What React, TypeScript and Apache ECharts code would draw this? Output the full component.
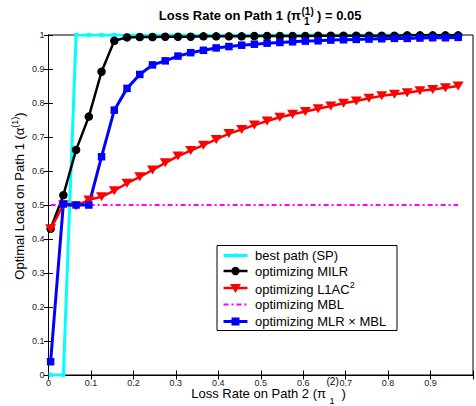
import React, { useEffect, useRef } from 'react';
import * as echarts from 'echarts';

// ---- data ----
const xValues = [
  0.005, 0.035, 0.065, 0.095, 0.125, 0.155, 0.185, 0.215, 0.245, 0.275, 0.305,
  0.335, 0.365, 0.395, 0.425, 0.455, 0.485, 0.515, 0.545, 0.575, 0.605, 0.635,
  0.665, 0.695, 0.725, 0.755, 0.785, 0.815, 0.845, 0.875, 0.905, 0.935, 0.965,
];
const spValues = [
  0, 0, 1, 1, 1, 1, 1, 1, 1, 1, 1, 1, 1, 1, 1, 1, 1, 1, 1, 1, 1, 1, 1, 1, 1, 1,
  1, 1, 1, 1, 1, 1, 1,
];
const milrValues = [
  0.43, 0.529, 0.662, 0.76, 0.892, 0.983, 0.993, 0.994, 0.994, 0.995, 0.995,
  0.995, 0.996, 0.996, 0.996, 0.996, 0.997, 0.997, 0.997, 0.997, 0.997, 0.998,
  0.998, 0.998, 0.998, 0.998, 0.998, 0.998, 0.999, 0.999, 0.999, 0.999, 0.999,
];
const l1acValues = [
  0.43, 0.5, 0.497, 0.515, 0.524, 0.542, 0.564, 0.583, 0.603, 0.624, 0.644,
  0.66, 0.676, 0.693, 0.71, 0.722, 0.735, 0.747, 0.758, 0.767, 0.775, 0.783,
  0.791, 0.799, 0.806, 0.814, 0.821, 0.826, 0.83, 0.836, 0.84, 0.845, 0.85,
];
const mblValues = [
  0.5, 0.5, 0.5, 0.5, 0.5, 0.5, 0.5, 0.5, 0.5, 0.5, 0.5, 0.5, 0.5, 0.5, 0.5,
  0.5, 0.5, 0.5, 0.5, 0.5, 0.5, 0.5, 0.5, 0.5, 0.5, 0.5, 0.5, 0.5, 0.5, 0.5,
  0.5, 0.5, 0.5,
];
const mlrMblValues = [
  0.039, 0.503, 0.5, 0.5, 0.642, 0.779, 0.843, 0.884, 0.912, 0.924, 0.938,
  0.948, 0.955, 0.962, 0.966, 0.97, 0.973, 0.976, 0.978, 0.98, 0.982, 0.983,
  0.985, 0.986, 0.987, 0.988, 0.989, 0.99, 0.99, 0.991, 0.992, 0.992, 0.993,
];
const seriesNames = [
  'best path (SP)',
  'optimizing MILR',
  'optimizing L1AC2',
  'optimizing MBL',
  'optimizing MLR × MBL',
];
const seriesColors = ['#00FFFF', '#000000', '#FF0000', '#FF00FF', '#0000FF'];

const FONT = '"Liberation Sans", Arial, Helvetica, sans-serif';

export default function App() {
  const ref = useRef<HTMLDivElement>(null);

  useEffect(() => {
    const chart = echarts.init(ref.current!, null, { renderer: 'svg' });
    const pairs = (ys: number[]) => xValues.map((x, i) => [x, ys[i]]);

    const gridLeft = 48.5;
    const gridTop = 35;

    // legend drawn as graphic
    const lgX = 217;
    const lgY = 245.5;
    const rowY = [255.5, 271, 288, 304.5, 321.5];
    const iconX1 = 223.5;
    const iconX2 = 247.5;
    const iconC = 235.5;
    const textX = 255;
    const legendEls: any[] = [
      {
        type: 'rect',
        shape: { x: lgX, y: lgY, width: 180, height: 85 },
        style: { fill: '#fff', stroke: '#000', lineWidth: 1 },
        z: 100,
      },
    ];
    const lineWidths = [3, 2.5, 2.5, 2, 3];
    seriesNames.forEach((name, i) => {
      const y = rowY[i];
      const c = seriesColors[i];
      legendEls.push({
        type: 'line',
        shape: { x1: iconX1, y1: y, x2: iconX2, y2: y },
        style: {
          stroke: c,
          lineWidth: lineWidths[i],
          lineDash: i === 3 ? [5, 3, 2, 3] : null,
        },
        z: 101,
      });
      if (i === 0) {
        legendEls.push({
          type: 'rect',
          shape: { x: iconC - 2, y: y - 2, width: 4, height: 4 },
          style: { fill: c },
          z: 102,
        });
      } else if (i === 1) {
        legendEls.push({
          type: 'circle',
          shape: { cx: iconC, cy: y, r: 4.2 },
          style: { fill: c },
          z: 102,
        });
      } else if (i === 2) {
        legendEls.push({
          type: 'polygon',
          shape: {
            points: [
              [iconC - 5.5, y - 4],
              [iconC + 5.5, y - 4],
              [iconC, y + 5],
            ],
          },
          style: { fill: c },
          z: 102,
        });
      } else if (i === 4) {
        legendEls.push({
          type: 'rect',
          shape: { x: iconC - 4, y: y - 4, width: 8, height: 8 },
          style: { fill: c },
          z: 102,
        });
      }
      legendEls.push({
        type: 'text',
        x: textX,
        y: i === 2 ? y + 1 : y,
        style: {
          text: i === 2 ? 'optimizing L1AC{s|2}' : name,
          fontSize: 13,
          fontFamily: FONT,
          fill: '#000',
          align: 'left',
          verticalAlign: 'middle',
          lineHeight: i === 2 ? 18 : 14,
          rich: {
            s: { fontSize: 9, fontFamily: FONT, lineHeight: 9, verticalAlign: 'top', fill: '#000' },
          },
        },
        z: 102,
      });
    });

    const titleEls: any[] = [
      {
        type: 'text', x: 301, y: 15.5,
        style: { text: 'Loss Rate on Path 1 (π', fontSize: 13, fontWeight: 'bold', fontFamily: FONT, fill: '#000', align: 'right', verticalAlign: 'middle' },
      },
      {
        type: 'text', x: 301.5, y: 11.5,
        style: { text: '(1)', fontSize: 10, fontWeight: 'bold', fontFamily: FONT, fill: '#000', align: 'left', verticalAlign: 'middle' },
      },
      {
        type: 'text', x: 304, y: 21,
        style: { text: '1', fontSize: 10, fontWeight: 'bold', fontFamily: FONT, fill: '#000', align: 'left', verticalAlign: 'middle' },
      },
      {
        type: 'text', x: 317, y: 15.5,
        style: { text: ') = 0.05', fontSize: 13, fontWeight: 'bold', fontFamily: FONT, fill: '#000', align: 'left', verticalAlign: 'middle' },
      },
      // x axis label
      {
        type: 'text', x: 326, y: 393.5,
        style: { text: 'Loss Rate on Path 2 (π', fontSize: 13, fontFamily: FONT, fill: '#000', align: 'right', verticalAlign: 'middle' },
      },
      {
        type: 'text', x: 326.5, y: 381,
        style: { text: '(2)', fontSize: 10, fontFamily: FONT, fill: '#000', align: 'left', verticalAlign: 'middle' },
      },
      {
        type: 'text', x: 329.5, y: 400.5,
        style: { text: '1', fontSize: 9, fontFamily: FONT, fill: '#000', align: 'left', verticalAlign: 'middle' },
      },
      {
        type: 'text', x: 341.5, y: 393.5,
        style: { text: ')', fontSize: 13, fontFamily: FONT, fill: '#000', align: 'left', verticalAlign: 'middle' },
      },
      // y axis label
      {
        type: 'text', x: 19, y: 196, rotation: Math.PI / 2,
        style: {
          text: 'Optimal Load on Path 1 (α{s|(1)})',
          fontSize: 13, fontFamily: FONT, fill: '#000', align: 'center', verticalAlign: 'middle', lineHeight: 18,
          rich: { s: { fontSize: 9, fontFamily: FONT, lineHeight: 9, verticalAlign: 'top', fill: '#000' } },
        },
      },
    ];

    const tickLabel = { fontSize: 9, fontFamily: FONT, color: '#222' };

    chart.setOption({
      animation: false,
      backgroundColor: '#fff',
      grid: {
        left: gridLeft,
        right: -2.5,
        top: gridTop,
        bottom: 31,
        show: true,
        borderColor: '#000',
        borderWidth: 1,
        containLabel: false,
      },
      xAxis: [
        {
          type: 'value', min: 0, max: 1, interval: 0.1, position: 'bottom',
          axisLine: { show: true, lineStyle: { color: '#000', width: 1 } },
          axisTick: { show: true, inside: true, length: 4.5, lineStyle: { color: '#000' } },
          axisLabel: {
            ...tickLabel, margin: 3,
            formatter: (v: number) => (v > 0.95 ? '' : String(Math.round(v * 10) / 10)),
          },
          splitLine: { show: false },
        },
        {
          type: 'value', min: 0, max: 1, interval: 0.1, position: 'top',
          axisLine: { show: true, lineStyle: { color: '#000', width: 1 } },
          axisTick: { show: true, inside: true, length: 4.5, lineStyle: { color: '#000' } },
          axisLabel: { show: false },
          splitLine: { show: false },
        },
      ],
      yAxis: [
        {
          type: 'value', min: 0, max: 1, interval: 0.1, position: 'left',
          axisLine: { show: true, lineStyle: { color: '#000', width: 1 } },
          axisTick: { show: true, inside: true, length: 4.5, lineStyle: { color: '#000' } },
          axisLabel: {
            ...tickLabel, margin: 4,
            formatter: (v: number) => String(Math.round(v * 10) / 10),
          },
          splitLine: { show: false },
        },
        {
          type: 'value', min: 0, max: 1, interval: 0.1, position: 'right',
          axisLine: { show: true, lineStyle: { color: '#000', width: 1 } },
          axisTick: { show: true, inside: true, length: 4.5, lineStyle: { color: '#000' } },
          axisLabel: { show: false },
          splitLine: { show: false },
        },
      ],
      series: [
        {
          name: seriesNames[0], type: 'line', data: pairs(spValues),
          symbol: 'rect', symbolSize: 4,
          lineStyle: { color: seriesColors[0], width: 3 },
          itemStyle: { color: seriesColors[0] },
        },
        {
          name: seriesNames[1], type: 'line', data: pairs(milrValues),
          symbol: 'circle', symbolSize: 8.5,
          lineStyle: { color: seriesColors[1], width: 2.5 },
          itemStyle: { color: seriesColors[1] },
        },
        {
          name: seriesNames[2], type: 'line', data: pairs(l1acValues),
          symbol: 'triangle', symbolSize: [11, 9], symbolRotate: 180,
          lineStyle: { color: seriesColors[2], width: 2.5 },
          itemStyle: { color: seriesColors[2] },
        },
        {
          name: seriesNames[3], type: 'line', data: pairs(mblValues),
          symbol: 'none',
          lineStyle: { color: seriesColors[3], width: 2, type: [5, 3, 2, 3] },
          itemStyle: { color: seriesColors[3] },
        },
        {
          name: seriesNames[4], type: 'line', data: pairs(mlrMblValues),
          symbol: 'rect', symbolSize: 7.5,
          lineStyle: { color: seriesColors[4], width: 3 },
          itemStyle: { color: seriesColors[4] },
        },
      ],
      graphic: [...titleEls, ...legendEls],
    });

    return () => chart.dispose();
  }, []);

  return (
    <div
      ref={ref}
      style={{ position: 'absolute', left: 0, top: 0, width: 476, height: 406 }}
    />
  );
}
